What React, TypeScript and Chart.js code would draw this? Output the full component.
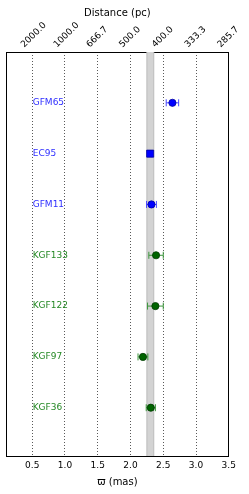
import React, { useEffect, useRef } from "react";
import { Chart, registerables } from "chart.js";

Chart.register(...registerables);

const names = ["GFM65", "EC95", "GFM11", "KGF133", "KGF122", "KGF97", "KGF36"];
const parallax = [2.64, 2.3, 2.32, 2.39, 2.38, 2.19, 2.31];
const parallaxErr = [0.095, 0.02, 0.075, 0.11, 0.12, 0.075, 0.07];
const rowPos = [7, 6, 5, 4, 3, 2, 1];
const groups = ["blue", "blue", "blue", "green", "green", "green", "green"];
const markerShapes = ["circle", "rect", "circle", "circle", "circle", "circle", "circle"];
const xTicks = [0.5, 1.0, 1.5, 2.0, 2.5, 3.0, 3.5];
const bandRange = [2.25, 2.355];

const markerFill: Record<string, string> = { blue: "#0000ff", green: "#006400" };
const markerEdge: Record<string, string> = { blue: "#0000a0", green: "#003a00" };
const errColor: Record<string, string> = { blue: "#4848ff", green: "#3c963c" };
const labelColor: Record<string, string> = { blue: "#2f2fff", green: "#248824" };

const FONT = "'DejaVu Sans', sans-serif";

export default function App() {
  const ref = useRef<HTMLCanvasElement | null>(null);
  useEffect(() => {
    if (!ref.current) return;

    const errSets = names.map((n, i) => ({
      type: "line" as const,
      label: n + " err",
      data: [
        { x: parallax[i] - parallaxErr[i], y: rowPos[i] },
        { x: parallax[i] + parallaxErr[i], y: rowPos[i] },
      ],
      showLine: true,
      borderColor: errColor[groups[i]],
      borderWidth: 1,
      pointStyle: "line" as const,
      rotation: 90,
      pointRadius: 3.5,
      pointBorderColor: errColor[groups[i]],
      pointBorderWidth: 1,
      order: 2,
    }));

    const markerSet = {
      type: "scatter" as const,
      label: "stars",
      data: names.map((_, i) => ({ x: parallax[i], y: rowPos[i] })),
      pointStyle: markerShapes as any,
      pointRadius: markerShapes.map((s) => (s === "rect" ? 5 : 3.6)),
      backgroundColor: groups.map((g) => markerFill[g]),
      borderColor: groups.map((g) => markerEdge[g]),
      borderWidth: 0.8,
      order: 1,
    };

    const bandPlugin = {
      id: "band",
      beforeDatasetsDraw(chart: any) {
        const { ctx, chartArea, scales } = chart;
        const x0 = scales.x.getPixelForValue(bandRange[0]);
        const x1 = scales.x.getPixelForValue(bandRange[1]);
        ctx.save();
        ctx.fillStyle = "#d3d3d3";
        ctx.fillRect(x0, chartArea.top, x1 - x0, chartArea.bottom - chartArea.top);
        ctx.strokeStyle = "#bcbcbc";
        ctx.lineWidth = 1;
        ctx.beginPath();
        ctx.moveTo(x0, chartArea.top);
        ctx.lineTo(x0, chartArea.bottom);
        ctx.moveTo(x1, chartArea.top);
        ctx.lineTo(x1, chartArea.bottom);
        ctx.stroke();
        ctx.restore();
      },
    };

    const labelPlugin = {
      id: "names",
      afterDatasetsDraw(chart: any) {
        const { ctx, scales } = chart;
        ctx.save();
        ctx.font = "9px " + FONT;
        ctx.textBaseline = "middle";
        ctx.textAlign = "left";
        names.forEach((n, i) => {
          ctx.fillStyle = labelColor[groups[i]];
          ctx.fillText(n, scales.x.getPixelForValue(xTicks[0]) + 0.5, scales.y.getPixelForValue(rowPos[i]));
        });
        ctx.restore();
      },
    };

    const chart = new Chart(ref.current, {
      type: "scatter",
      data: { datasets: [...errSets, markerSet] as any },
      plugins: [bandPlugin, labelPlugin],
      options: {
        animation: false,
        responsive: false,
        maintainAspectRatio: false,
        layout: { padding: 0 },
        plugins: { legend: { display: false }, tooltip: { enabled: false } },
        scales: {
          x: {
            type: "linear",
            position: "bottom",
            min: 0.1,
            max: 3.5,
            afterBuildTicks: (s: any) => {
              s.ticks = xTicks.map((v) => ({ value: v }));
            },
            afterFit: (s: any) => {
              s.height = 38;
            },
            ticks: {
              font: { family: FONT, size: 9 },
              color: "#000",
              padding: 4,
              maxRotation: 0,
              callback: (v: any) => Number(v).toFixed(1),
            },
            grid: {
              display: true,
              drawTicks: false,
              color: "rgba(0,0,0,0.65)",
              lineWidth: 1,
            },
            border: { display: true, color: "#000", width: 1, dash: [1, 2] } as any,
            title: {
              display: true,
              text: "ϖ (mas)",
              font: { family: FONT, size: 10 },
              color: "#000",
              padding: { top: 0, bottom: 6 },
            },
          },
          x2: {
            type: "linear",
            position: "top",
            min: 0.1,
            max: 3.5,
            afterBuildTicks: (s: any) => {
              s.ticks = xTicks.map((v) => ({ value: v }));
            },
            afterFit: (s: any) => {
              s.height = 52;
            },
            ticks: {
              font: { family: FONT, size: 9 },
              color: "#000",
              padding: 2,
              minRotation: 45,
              maxRotation: 45,
              labelOffset: -2,
              callback: (v: any) => (1000 / Number(v)).toFixed(1),
            },
            grid: { display: false, drawTicks: false },
            border: { display: true, color: "#000", width: 1 },
            title: {
              display: true,
              text: "Distance (pc)",
              font: { family: FONT, size: 10 },
              color: "#000",
              padding: { top: 7, bottom: 0 },
            },
          },
          y: {
            type: "linear",
            position: "left",
            min: 0.05,
            max: 8,
            afterFit: (s: any) => {
              s.width = 6;
            },
            ticks: { display: false },
            grid: { display: false, drawTicks: false },
            border: { display: true, color: "#000", width: 1 },
          },
          y2: {
            type: "linear",
            position: "right",
            min: 0,
            max: 1,
            afterFit: (s: any) => {
              s.width = 20;
            },
            ticks: { display: false },
            grid: { display: false, drawTicks: false },
            border: { display: true, color: "#000", width: 1 },
          },
        },
      },
    });
    return () => chart.destroy();
  }, []);

  return (
    <div style={{ position: "fixed", left: 0, top: 0, width: 249, height: 494, background: "#fff" }}>
      <canvas ref={ref} width={249} height={494} style={{ display: "block", width: 249, height: 494 }} />
    </div>
  );
}
